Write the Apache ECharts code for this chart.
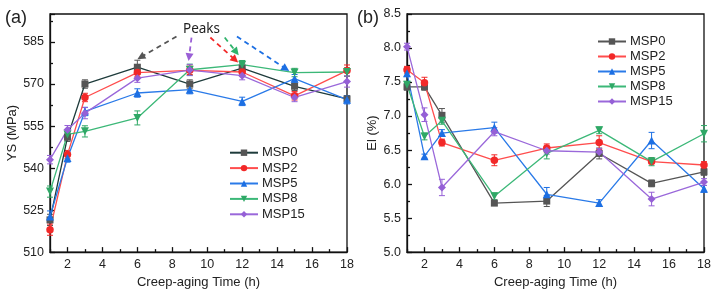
<!DOCTYPE html>
<html><head><meta charset="utf-8">
<script src="https://cdn.jsdelivr.net/npm/echarts@6/dist/echarts.min.js"></script>
<style>html,body{margin:0;padding:0;background:#fff}#c{width:715px;height:294px}</style>
</head><body><div id="c"></div>
<script>
// ---- data ----
const times = [1, 2, 3, 6, 9, 12, 15, 18];
const seriesNames = ['MSP0', 'MSP2', 'MSP5', 'MSP8', 'MSP15'];
const xLabelTicks = [2, 4, 6, 8, 10, 12, 14, 16, 18];
const xMinorTicks = [1, 3, 5, 7, 9, 11, 13, 15, 17];

const ysMSP0  = [521.5, 551.0, 570.0, 576.0, 570.0, 575.7, 569.2, 564.7];
const ysMSP2  = [518.0, 544.8, 565.2, 574.1, 574.9, 574.3, 565.8, 574.8];
const ysMSP5  = [522.7, 543.6, 560.2, 566.8, 568.0, 563.8, 571.9, 564.4];
const ysMSP8  = [531.6, 552.0, 553.1, 557.9, 575.1, 576.9, 574.1, 574.3];
const ysMSP15 = [543.0, 553.7, 559.6, 572.1, 575.0, 573.0, 565.2, 570.9];

const ysErrMSP0  = [2.0, 1.5, 1.5, 2.5, 1.5, 1.5, 1.5, 1.2];
const ysErrMSP2  = [2.0, 1.5, 1.5, 1.5, 1.5, 1.5, 1.5, 2.0];
const ysErrMSP5  = [2.0, 1.5, 1.5, 1.5, 1.5, 1.5, 1.5, 1.5];
const ysErrMSP8  = [2.0, 1.5, 2.0, 2.5, 2.0, 1.5, 1.5, 1.5];
const ysErrMSP15 = [1.5, 1.5, 2.0, 1.5, 2.0, 1.5, 1.5, 2.0];

const elMSP0  = [7.43, 7.43, 7.01, 5.72, 5.75, 6.45, 6.01, 6.18];
const elMSP2  = [7.68, 7.49, 6.61, 6.35, 6.53, 6.61, 6.33, 6.28];
const elMSP5  = [7.63, 6.41, 6.75, 6.83, 5.85, 5.72, 6.64, 5.93];
const elMSP8  = [7.46, 6.70, 6.93, 5.82, 6.45, 6.79, 6.33, 6.74];
const elMSP15 = [8.02, 7.02, 5.95, 6.77, 6.49, 6.47, 5.78, 6.03];

const elErrMSP0  = [0.05, 0.05, 0.10, 0.03, 0.08, 0.08, 0.05, 0.05];
const elErrMSP2  = [0.05, 0.08, 0.05, 0.08, 0.06, 0.10, 0.03, 0.05];
const elErrMSP5  = [0.05, 0.03, 0.05, 0.08, 0.10, 0.05, 0.12, 0.05];
const elErrMSP8  = [0.05, 0.05, 0.05, 0.05, 0.08, 0.05, 0.06, 0.12];
const elErrMSP15 = [0.05, 0.10, 0.12, 0.06, 0.05, 0.05, 0.10, 0.05];

// peak annotation arrows (data coordinates of chart a): [x1, y1, x2, y2]
const peakArrows = [
  [8.24, 587.0, 6.2, 579.6],
  [9.1, 586.6, 8.96, 579.6],
  [10.18, 586.6, 11.6, 578.6],
  [11.0, 586.6, 11.66, 581.4],
  [11.7, 587.0, 14.5, 575.4]
];
const peakColors = ['#555555', '#9a5fd6', '#f22828', '#2fb36b', '#1c6fe3'];

// ---- styles ----
const markerColors = ['#555555', '#f22828', '#1c6fe3', '#2fa866', '#9560d6'];
const lineColorsA  = ['#1e3b3b', '#ff4d4d', '#2a7ae8', '#3cb878', '#9a68da'];
const lineColorsB  = ['#555555', '#ff4d4d', '#2a7ae8', '#3cb878', '#9a68da'];
const symbols = ['rect', 'circle', 'triangle', 'triangle', 'diamond'];
const symbolRot = [0, 0, 0, 180, 0];
const symbolSizes = [7, 7.5, 8, 8, 8];

const ysData = [ysMSP0, ysMSP2, ysMSP5, ysMSP8, ysMSP15];
const ysErr = [ysErrMSP0, ysErrMSP2, ysErrMSP5, ysErrMSP8, ysErrMSP15];
const elData = [elMSP0, elMSP2, elMSP5, elMSP8, elMSP15];
const elErr = [elErrMSP0, elErrMSP2, elErrMSP5, elErrMSP8, elErrMSP15];

const FONT = 'Liberation Sans';

function errSeries(name, vals, errs, color, xi, yi) {
  return {
    type: 'custom', name: name, xAxisIndex: xi, yAxisIndex: yi, z: 2,
    silent: true, legendHoverLink: false,
    data: times.map((t, i) => [t, vals[i] - errs[i], vals[i] + errs[i]]),
    encode: { x: 0, y: [1, 2] },
    renderItem: function (params, api) {
      const x = api.value(0);
      const p1 = api.coord([x, api.value(1)]);
      const p2 = api.coord([x, api.value(2)]);
      const w = 3;
      const st = { stroke: color, lineWidth: 1 };
      return { type: 'group', children: [
        { type: 'line', shape: { x1: p1[0], y1: p1[1], x2: p2[0], y2: p2[1] }, style: st },
        { type: 'line', shape: { x1: p1[0] - w, y1: p1[1], x2: p1[0] + w, y2: p1[1] }, style: st },
        { type: 'line', shape: { x1: p2[0] - w, y1: p2[1], x2: p2[0] + w, y2: p2[1] }, style: st }
      ]};
    }
  };
}

function lineSeries(name, vals, k, lineColor, xi, yi) {
  return {
    type: 'line', name: name, xAxisIndex: xi, yAxisIndex: yi, z: 3,
    data: times.map((t, i) => [t, vals[i]]),
    symbol: symbols[k], symbolRotate: symbolRot[k], symbolSize: symbolSizes[k],
    showAllSymbol: true,
    lineStyle: { color: lineColor, width: 1.3 },
    itemStyle: { color: markerColors[k] },
    emphasis: { disabled: true }
  };
}

const series = [];
seriesNames.forEach((n, k) => {
  series.push(errSeries('ea:' + n, ysData[k], ysErr[k], markerColors[k], 0, 0));
});
seriesNames.forEach((n, k) => {
  series.push(errSeries('eb:' + n, elData[k], elErr[k], markerColors[k], 2, 1));
});
seriesNames.forEach((n, k) => {
  const s = lineSeries(n, ysData[k], k, lineColorsA[k], 0, 0);
  if (k === 0) {
    s.markLine = {
      silent: true, animation: false,
      symbol: ['none', 'triangle'], symbolSize: 8,
      label: { show: false },
      emphasis: { disabled: true },
      data: peakArrows.map((a, i) => [
        { coord: [a[0], a[1]], symbol: 'none',
          lineStyle: { color: peakColors[i], type: [5, 4], width: 1.8 },
          itemStyle: { color: peakColors[i] } },
        { coord: [a[2], a[3]], symbol: 'triangle', symbolSize: 8,
          itemStyle: { color: peakColors[i] } }
      ])
    };
  }
  series.push(s);
});
seriesNames.forEach((n, k) => {
  series.push(lineSeries('b:' + n, elData[k], k, lineColorsB[k], 2, 1));
});

const axisLineStyle = { color: '#111', width: 1.3 };
const labelStyle = { fontFamily: FONT, fontSize: 12.5, color: '#222' };

function mainX(gridIndex) {
  return {
    type: 'value', gridIndex: gridIndex, min: 1, max: 18, interval: 1,
    name: 'Creep-aging Time (h)', nameLocation: 'middle', nameGap: 21,
    nameTextStyle: { fontFamily: FONT, fontSize: 13, color: '#222' },
    axisLine: { show: true, onZero: false, lineStyle: axisLineStyle },
    axisTick: { show: true, inside: true, length: 5, customValues: xLabelTicks, lineStyle: axisLineStyle },
    axisLabel: Object.assign({ margin: 6, customValues: xLabelTicks }, labelStyle),
    splitLine: { show: false }
  };
}
function minorX(gridIndex) {
  return {
    type: 'value', gridIndex: gridIndex, min: 1, max: 18, interval: 1, position: 'bottom',
    axisLine: { show: false, onZero: false },
    axisTick: { show: true, inside: true, length: 3, customValues: xMinorTicks, lineStyle: axisLineStyle },
    axisLabel: { show: false },
    splitLine: { show: false }
  };
}

const option = {
  animation: false,
  backgroundColor: '#fff',
  grid: [
    { left: 50, right: 368, top: 14, bottom: 41, show: true, borderColor: '#111', borderWidth: 1.3, backgroundColor: 'transparent' },
    { left: 407, right: 11, top: 14, bottom: 41, show: true, borderColor: '#111', borderWidth: 1.3, backgroundColor: 'transparent' }
  ],
  xAxis: [mainX(0), minorX(0), mainX(1), minorX(1)],
  yAxis: [
    {
      type: 'value', gridIndex: 0, min: 510, max: 595, interval: 15,
      name: 'YS (MPa)', nameLocation: 'middle', nameGap: 28,
      nameTextStyle: { fontFamily: FONT, fontSize: 13, color: '#222' },
      axisLine: { show: true, onZero: false, lineStyle: axisLineStyle },
      axisTick: { show: true, inside: true, length: 5, lineStyle: axisLineStyle },
      minorTick: { show: true, splitNumber: 2, length: 3, lineStyle: axisLineStyle },
      axisLabel: Object.assign({ margin: 6, showMaxLabel: false }, labelStyle),
      splitLine: { show: false }, minorSplitLine: { show: false }
    },
    {
      type: 'value', gridIndex: 1, min: 5.0, max: 8.5, interval: 0.5,
      name: 'El (%)', nameLocation: 'middle', nameGap: 28,
      nameTextStyle: { fontFamily: FONT, fontSize: 13, color: '#222' },
      axisLine: { show: true, onZero: false, lineStyle: axisLineStyle },
      axisTick: { show: true, inside: true, length: 5, lineStyle: axisLineStyle },
      minorTick: { show: true, splitNumber: 2, length: 3, lineStyle: axisLineStyle },
      axisLabel: Object.assign({ margin: 6, formatter: v => v.toFixed(1) }, labelStyle),
      splitLine: { show: false }, minorSplitLine: { show: false }
    }
  ],
  legend: [
    {
      orient: 'vertical', left: 229, top: 145, padding: 0,
      itemWidth: 28, itemHeight: 8, itemGap: 0,
      data: seriesNames,
      textStyle: { fontFamily: FONT, fontSize: 13, color: '#222', lineHeight: 15.4, padding: [0, 0, 0, -1] },
      selectedMode: false
    },
    {
      orient: 'vertical', left: 597, top: 34, padding: 0,
      itemWidth: 28, itemHeight: 8, itemGap: 0,
      data: seriesNames.map(n => 'b:' + n),
      formatter: n => n.replace('b:', ''),
      textStyle: { fontFamily: FONT, fontSize: 13, color: '#222', lineHeight: 15, padding: [0, 0, 0, -1] },
      selectedMode: false
    }
  ],
  graphic: [
    { type: 'text', left: 5, top: 9, style: { text: '(a)', font: '18px "Liberation Sans"', fill: '#222' } },
    { type: 'text', left: 357, top: 9, style: { text: '(b)', font: '18px "Liberation Sans"', fill: '#222' } },
    { type: 'text', left: 183, top: 22, style: { text: 'Peaks', font: '13.5px "Noto Sans"', fill: '#222' } }
  ],
  series: series
};

const chart = echarts.init(document.getElementById('c'), null, { renderer: 'canvas' });
chart.setOption(option);
</script>
</body></html>
